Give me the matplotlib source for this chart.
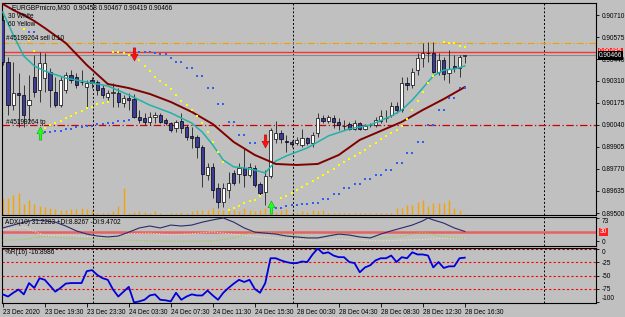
import numpy as np
import matplotlib
matplotlib.use("Agg")
import matplotlib.pyplot as plt
from matplotlib.path import Path
from matplotlib.transforms import blended_transform_factory

plt.rcParams['font.family'] = ['Liberation Sans', 'DejaVu Sans']

# EURGBPmicro M30, one entry per bar (bar 0 = 23 Dec 15:30)
opens = [0.90680, 0.90423, 0.90160, 0.90234, 0.90222, 0.90160, 0.90332, 0.90252, 0.90325, 0.90362,
         0.90240, 0.90160, 0.90252, 0.90344, 0.90332, 0.90301, 0.90270, 0.90313, 0.90301, 0.90264,
         0.90209, 0.90234, 0.90234, 0.90173, 0.90203, 0.90197, 0.90087, 0.90081, 0.90057, 0.90087,
         0.90099, 0.90069, 0.90050, 0.90020, 0.90063, 0.90026, 0.89971, 0.89965, 0.89904, 0.89733,
         0.89782, 0.89653, 0.89568, 0.89641, 0.89745, 0.89739, 0.89776, 0.89733, 0.89776, 0.89678,
         0.89629, 0.89727, 0.89953, 0.89989, 0.89940, 0.89934, 0.89928, 0.89916, 0.89959, 0.89928,
         0.89989, 0.90081, 0.90063, 0.90081, 0.90057, 0.90032, 0.90044, 0.90014, 0.90050, 0.90014,
         0.90038, 0.90038, 0.90063, 0.90081, 0.90099, 0.90154, 0.90130, 0.90295, 0.90283, 0.90374,
         0.90448, 0.90478, 0.90478, 0.90362, 0.90435, 0.90356, 0.90399, 0.90387, 0.90458]
highs = [0.90710, 0.90454, 0.90423, 0.90356, 0.90283, 0.90344, 0.90466, 0.90484, 0.90478, 0.90387,
         0.90332, 0.90332, 0.90362, 0.90374, 0.90356, 0.90374, 0.90313, 0.90332, 0.90313, 0.90283,
         0.90252, 0.90295, 0.90264, 0.90222, 0.90234, 0.90228, 0.90130, 0.90112, 0.90118, 0.90118,
         0.90112, 0.90081, 0.90057, 0.90069, 0.90112, 0.90038, 0.90026, 0.89977, 0.89916, 0.89806,
         0.89806, 0.89684, 0.89684, 0.89751, 0.89763, 0.89806, 0.89898, 0.89806, 0.89794, 0.89690,
         0.89763, 0.90020, 0.90063, 0.90008, 0.89977, 0.89947, 0.89965, 0.90014, 0.89965, 0.89995,
         0.90112, 0.90099, 0.90099, 0.90099, 0.90081, 0.90069, 0.90057, 0.90069, 0.90057, 0.90044,
         0.90050, 0.90087, 0.90130, 0.90130, 0.90179, 0.90179, 0.90332, 0.90332, 0.90387, 0.90478,
         0.90539, 0.90545, 0.90545, 0.90478, 0.90454, 0.90496, 0.90466, 0.90466, 0.90467]
lows = [0.90405, 0.90099, 0.90130, 0.90026, 0.90026, 0.90057, 0.90209, 0.90179, 0.90240, 0.90148,
        0.90148, 0.90148, 0.90234, 0.90295, 0.90264, 0.90283, 0.90148, 0.90264, 0.90222, 0.90203,
        0.90191, 0.90148, 0.90148, 0.90148, 0.90130, 0.90081, 0.90050, 0.90038, 0.90038, 0.90050,
        0.90050, 0.90038, 0.89995, 0.89995, 0.89989, 0.89947, 0.89898, 0.89837, 0.89659, 0.89702,
        0.89592, 0.89531, 0.89537, 0.89592, 0.89672, 0.89684, 0.89659, 0.89721, 0.89659, 0.89611,
        0.89549, 0.89714, 0.89928, 0.89928, 0.89873, 0.89904, 0.89916, 0.89904, 0.89916, 0.89904,
        0.89965, 0.90050, 0.90050, 0.90020, 0.90008, 0.90008, 0.90008, 0.90008, 0.90008, 0.90008,
        0.90026, 0.90026, 0.90050, 0.90057, 0.90087, 0.90112, 0.90118, 0.90252, 0.90264, 0.90344,
        0.90393, 0.90423, 0.90356, 0.90344, 0.90313, 0.90295, 0.90362, 0.90332, 0.90419]
closes = [0.90423, 0.90160, 0.90234, 0.90222, 0.90099, 0.90191, 0.90240, 0.90417, 0.90417, 0.90252,
          0.90160, 0.90313, 0.90344, 0.90313, 0.90283, 0.90301, 0.90295, 0.90295, 0.90252, 0.90222,
          0.90234, 0.90240, 0.90179, 0.90203, 0.90191, 0.90087, 0.90069, 0.90057, 0.90087, 0.90099,
          0.90057, 0.90050, 0.90008, 0.90057, 0.90020, 0.89965, 0.89959, 0.89904, 0.89739, 0.89782,
          0.89641, 0.89568, 0.89653, 0.89684, 0.89684, 0.89776, 0.89733, 0.89782, 0.89672, 0.89623,
          0.89727, 0.90008, 0.89989, 0.89953, 0.89934, 0.89922, 0.89947, 0.89959, 0.89928, 0.89977,
          0.90081, 0.90063, 0.90087, 0.90057, 0.90038, 0.90035, 0.90014, 0.90050, 0.90014, 0.90032,
          0.90040, 0.90069, 0.90093, 0.90084, 0.90154, 0.90130, 0.90295, 0.90283, 0.90362, 0.90448,
          0.90478, 0.90480, 0.90362, 0.90435, 0.90350, 0.90380, 0.90387, 0.90454, 0.90466]
volumes = [170, 170, 200, 220, 110, 150, 110, 90, 80, 70,
           60, 50, 50, 60, 60, 70, 60, 50, 20, 20,
           20, 40, 90, 270, 20, 30, 40, 30, 20, 40,
           20, 10, 20, 20, 30, 20, 40, 50, 50, 50,
           70, 50, 50, 50, 50, 40, 70, 50, 40, 50,
           70, 50, 30, 50, 60, 20, 20, 40, 30, 50,
           40, 50, 20, 20, 20, 20, 20, 20, 20, 20,
           20, 20, 20, 20, 20, 70, 70, 100, 100, 130,
           150, 90, 120, 120, 120, 150, 70, 50, 10]

# moving averages (read at sampled bars)
ma_fast_bars = [0, 2, 4, 6, 8, 12, 16, 20, 24, 28, 32, 36, 38, 40, 42, 44, 46, 48, 50, 51, 52, 54,
                58, 62, 66, 70, 74, 76, 78, 80, 82, 84, 86, 88]
ma_fast = [0.90729, 0.90588, 0.90460, 0.90399, 0.90368, 0.90325, 0.90301, 0.90277, 0.90222, 0.90160,
           0.90112, 0.90050, 0.89995, 0.89916, 0.89824, 0.89782, 0.89776, 0.89763, 0.89745, 0.89782,
           0.89818, 0.89849, 0.89898, 0.89971, 0.90014, 0.90038, 0.90093, 0.90130, 0.90191, 0.90264,
           0.90338, 0.90374, 0.90380, 0.90399]
ma_slow_bars = [0, 2, 4, 6, 8, 12, 16, 20, 24, 28, 32, 36, 40, 44, 48, 52, 56, 60, 64, 68, 72, 76,
                80, 84, 88]
ma_slow = [0.90778, 0.90741, 0.90710, 0.90674, 0.90631, 0.90539, 0.90405, 0.90289, 0.90264, 0.90228,
           0.90179, 0.90118, 0.90044, 0.89934, 0.89855, 0.89800, 0.89794, 0.89800, 0.89855, 0.89947,
           0.90002, 0.90057, 0.90130, 0.90197, 0.90270]

# parabolic SAR dots
sar_yellow_bars = [4, 5, 6, 8, 9, 10, 11, 12, 13, 14, 15, 16, 17, 18, 19, 20,
                   21, 22, 23, 24, 25, 26, 27, 28, 29, 30, 31, 32, 33, 34, 35, 36, 37, 38, 39, 40, 41, 42,
                   43, 44, 45, 46, 47, 48, 49,
                   53, 54, 55, 56, 57, 58, 59, 60, 61, 62, 63, 64, 65, 66, 67, 68, 69, 70, 71, 72, 73,
                   74, 75, 76, 77, 78, 79, 80, 81, 82, 84, 85, 86, 87, 88]
sar_yellow = [0.90625, 0.90558, 0.90490, 0.90020, 0.90038, 0.90050, 0.90063, 0.90081, 0.90093, 0.90112,
              0.90124, 0.90142, 0.90148, 0.90167, 0.90173, 0.90179,
              0.90484, 0.90484, 0.90478, 0.90466, 0.90454, 0.90435, 0.90399, 0.90368, 0.90332, 0.90307,
              0.90283, 0.90258, 0.90222, 0.90185, 0.90160, 0.90130, 0.90093, 0.90050, 0.89995, 0.89934,
              0.89873, 0.89812,
              0.89519, 0.89531, 0.89543, 0.89562, 0.89574, 0.89580, 0.89604,
              0.89592, 0.89604, 0.89623, 0.89641, 0.89659, 0.89678, 0.89696, 0.89714, 0.89733, 0.89751,
              0.89769, 0.89794, 0.89812, 0.89831, 0.89849, 0.89867, 0.89886, 0.89910, 0.89928, 0.89953,
              0.89971, 0.89989, 0.90008, 0.90032, 0.90075, 0.90130, 0.90185, 0.90240, 0.90295, 0.90338,
              0.90545, 0.90539, 0.90539, 0.90521, 0.90515]
sar_blue_bars = [5, 6, 8, 9, 10, 11, 12, 13, 14, 15, 16, 17, 18, 19, 20, 21, 22, 23, 24,
                 25, 26, 27, 28, 29, 30, 31, 32, 33, 34, 35, 36, 37, 38, 39, 40, 41, 42, 43, 44, 45, 46, 47, 48,
                 52, 53, 54, 55, 56, 57, 58, 59, 60, 61, 62, 63, 64, 65, 66, 67, 68, 69, 70, 71, 72,
                 73, 74, 75, 76, 77, 78, 79, 80, 81, 82, 83, 84, 85, 86, 87, 88]
sar_blue = [0.90606, 0.90606, 0.89995, 0.89995, 0.90002, 0.90002, 0.90014, 0.90014, 0.90026, 0.90026,
            0.90032, 0.90032, 0.90044, 0.90044, 0.90050, 0.90050, 0.90063, 0.90063, 0.90069,
            0.90484, 0.90484, 0.90484, 0.90484, 0.90478, 0.90472, 0.90472, 0.90448, 0.90423, 0.90423,
            0.90387, 0.90387, 0.90338, 0.90338, 0.90264, 0.90264, 0.90167, 0.90167, 0.90057, 0.90057,
            0.89977, 0.89977, 0.89928, 0.89928,
            0.89531, 0.89531, 0.89543, 0.89549, 0.89549, 0.89556, 0.89556, 0.89562, 0.89562, 0.89586,
            0.89586, 0.89617, 0.89617, 0.89653, 0.89653, 0.89678, 0.89678, 0.89708, 0.89708, 0.89733,
            0.89733, 0.89763, 0.89763, 0.89806, 0.89806, 0.89867, 0.89867, 0.89934, 0.89934, 0.90038,
            0.90038, 0.90130, 0.90130, 0.90203, 0.90203, 0.90264, 0.90264]

# signal arrows
sell_bars = [25, 50]
sell_prices = [0.90472, 0.89941]
buy_bars = [7, 51]
buy_prices = [0.89989, 0.89537]

# order / price lines
order_price = 0.90539
tp_price = 0.90040
ask_price = 0.90485
bid_price = 0.90466
day_breaks = [17.1, 55.2, 103.0]

price_ticks = [0.90710, 0.90575, 0.90440, 0.90310, 0.90175, 0.90040, 0.89905, 0.89770, 0.89635, 0.89500]
time_bars = [0, 8, 16, 24, 32, 40, 48, 56, 64, 72, 80, 88]
time_labels = ["23 Dec 2020", "23 Dec 19:30", "23 Dec 23:30", "24 Dec 03:30", "24 Dec 07:30",
               "24 Dec 11:30", "24 Dec 15:30", "28 Dec 00:30", "28 Dec 04:30", "28 Dec 08:30",
               "28 Dec 12:30", "28 Dec 16:30"]

# ADX(10)
adx_bars = [0, 2, 4, 6, 8, 10, 12, 14, 16, 18, 20, 22, 24, 26, 28, 30, 32, 34, 36, 38, 40, 42, 44, 46,
            48, 50, 52, 54, 56, 58, 60, 62, 64, 66, 68, 70, 72, 74, 76, 78, 80, 81, 82, 84, 86, 88]
adx = [42, 51, 60, 67, 64, 60, 48, 33, 23, 17, 14, 17, 29, 42, 48, 42, 51, 48, 51, 60, 67, 73, 60, 42,
       29, 26, 23, 17, 14, 11, 11, 17, 23, 20, 14, 11, 23, 33, 42, 51, 64, 73, 67, 57, 42, 31.2283]
di_bars = [0, 4, 8, 12, 16, 20, 24, 28, 32, 36, 40, 44, 48, 52, 56, 60, 64, 68, 72, 76, 80, 84, 88]
plus_di = [4, 6, 16, 10, 8, 6, 4, 2, 1, 1, 2, 11, 30, 26, 18, 12, 26, 16, 11, 16, 29, 14, 8.8267]
minus_di = [36, 45, 18, 20, 16, 14, 24, 26, 20, 24, 30, 22, 16, 10, 6, 4, 6, 4, 2, 4, 6, 10, 9.4702]
adx_level = 30

# Williams %R(16)
wpr = [-85, -89, -82, -76, -85, -64, -73, -55, -58, -69,
       -80, -73, -65, -64, -64, -64, -42, -40, -49, -55,
       -58, -76, -89, -80, -71, -100, -98, -95, -87, -85,
       -95, -96, -98, -82, -95, -89, -85, -87, -87, -78,
       -87, -95, -82, -73, -65, -58, -62, -58, -75, -82,
       -64, -18, -18, -22, -25, -27, -27, -24, -25, -11,
       0, -9, -7, -13, -16, -16, -25, -27, -44, -35,
       -31, -22, -18, -18, -13, -25, -16, -18, -7, -11,
       -11, -13, -35, -25, -36, -33, -33, -18, -16.8986]
wpr_levels = [0, -25, -50, -75]

BG = '#C0C0C0'
FS = 4.7
W, H = 625, 317


def rect(x0, y0, x1, y1):
    return [x0 / W, 1 - y1 / H, (x1 - x0) / W, (y1 - y0) / H]


fig = plt.figure(figsize=(W / 100, H / 100), dpi=100, facecolor=BG)
ax = fig.add_axes(rect(2, 3, 596, 215), facecolor=BG)
ax_adx = fig.add_axes(rect(2, 217, 596, 246), facecolor=BG, sharex=ax)
ax_wpr = fig.add_axes(rect(2, 248, 596, 303), facecolor=BG, sharex=ax)

o = np.array(opens); h = np.array(highs); l = np.array(lows); c = np.array(closes)
x = np.arange(len(o))

# volumes in the bottom of the price window
ax.vlines(x, 0, np.array(volumes) / 2120, transform=ax.get_xaxis_transform(),
          color='#F5A300', lw=1.0, zorder=1)

for d in day_breaks:
    for a in (ax, ax_adx, ax_wpr):
        a.axvline(d, color='black', lw=0.7, ls=(0, (2, 2)), zorder=1)

ax.axhline(order_price, color='#F0A000', lw=0.8, ls=(0, (6, 2, 1, 2)), zorder=2)
ax.axhline(tp_price, color='#CC0000', lw=0.9, ls=(0, (6, 2, 1, 2)), zorder=2)
ax.axhline(ask_price, color='#FF3030', lw=1.0, zorder=2)
ax.axhline(bid_price, color='#8A8A8A', lw=0.8, zorder=2)

# candles
ax.vlines(x, l, h, color='#202020', lw=0.6, zorder=3)
up = c >= o
bh = np.maximum(np.abs(c - o), 0.000015)
bb = np.minimum(o, c)
ax.bar(x[up], bh[up], bottom=bb[up], width=0.6, color='white', edgecolor='black', lw=0.5, zorder=4)
ax.bar(x[~up], bh[~up], bottom=bb[~up], width=0.6, color='#3B3B98', edgecolor='black', lw=0.5, zorder=4)

ax.plot(ma_fast_bars, ma_fast, color='#20B2AA', lw=1.1, zorder=5)
ax.plot(ma_slow_bars, ma_slow, color='#800000', lw=1.4, zorder=5)

ax.scatter(sar_yellow_bars, sar_yellow, s=2.5, marker='s', color='#FFFF00', lw=0, zorder=6)
ax.scatter(sar_blue_bars, sar_blue, s=2.5, marker='s', color='#3060F0', lw=0, zorder=6)

down_arrow = Path([(-0.2, 1), (0.2, 1), (0.2, 0.05), (0.55, 0.05), (0, -1), (-0.55, 0.05),
                   (-0.2, 0.05), (-0.2, 1)], closed=True)
up_arrow = Path([(px, -py) for px, py in down_arrow.vertices], closed=True)
ax.scatter(sell_bars, sell_prices, marker=down_arrow, s=90, color='#FF1010', edgecolor='#A00000',
           lw=0.3, zorder=8)
ax.scatter(buy_bars, buy_prices, marker=up_arrow, s=90, color='#20FF20', edgecolor='#009000',
           lw=0.3, zorder=8)

ax.set_xlim(-0.15, 113.0)
ax.set_ylim(0.89488, 0.90784)
ax.yaxis.tick_right()
ax.set_yticks(price_ticks)
ax.set_yticklabels([f"{p:.5f}" for p in price_ticks])
ax.tick_params(axis='y', direction='out', length=2.5, width=0.6, pad=1.5, labelsize=FS)
ax.tick_params(axis='x', bottom=False, labelbottom=False)

tr = blended_transform_factory(ax.transAxes, ax.transData)
ax.text(1.004, ask_price, f"{ask_price:.5f}", transform=tr, ha='left', va='center', fontsize=FS,
        color='white', bbox=dict(boxstyle='square,pad=0.12', fc='#FF2020', ec='none'), zorder=10,
        clip_on=False)
ax.text(1.004, bid_price - 0.00004, f"{bid_price:.5f}", transform=tr, ha='left', va='center',
        fontsize=FS, color='white', bbox=dict(boxstyle='square,pad=0.12', fc='black', ec='none'),
        zorder=11, clip_on=False)

# ADX panel
ax_adx.axhline(adx_level, color='#E86060', lw=1.8, zorder=2)
ax_adx.plot(di_bars, minus_di, color='#F5DEB3', lw=0.8, ls=(0, (1, 1.5)), zorder=3)
ax_adx.plot(di_bars, plus_di, color='#9ACD32', lw=0.8, ls=(0, (1, 1.5)), zorder=3)
ax_adx.plot(adx_bars, adx, color='#2A2A70', lw=0.8, zorder=4)
ax_adx.set_ylim(-14, 76)
ax_adx.yaxis.tick_right()
ax_adx.set_yticks([73, 0])
ax_adx.set_yticklabels(['73', '0'])
ax_adx.tick_params(axis='y', direction='out', length=2.5, width=0.6, pad=1.5, labelsize=FS)
ax_adx.get_yticklabels()[0].set_va('top')
ax_adx.tick_params(axis='x', bottom=False, labelbottom=False)
tra = blended_transform_factory(ax_adx.transAxes, ax_adx.transData)
ax_adx.text(1.006, adx_level, str(adx_level), transform=tra, ha='left', va='center', fontsize=FS,
            color='white', bbox=dict(boxstyle='square,pad=0.12', fc='#FF2020', ec='none'),
            clip_on=False)

# %R panel
for lv in wpr_levels:
    ax_wpr.axhline(lv, color='#FF0000' if lv else '#B00000', lw=0.8, ls=(0, (2, 2)), zorder=2)
ax_wpr.plot(x, wpr, color='#0000DD', lw=1.3, zorder=4)
ax_wpr.set_ylim(-101, 1)
ax_wpr.yaxis.tick_right()
ax_wpr.set_yticks([0, -25, -50, -75, -100])
ax_wpr.set_yticklabels(['0', '-25', '-50', '-75', '-100'])
ax_wpr.tick_params(axis='y', direction='out', length=2.5, width=0.6, pad=1.5, labelsize=FS)
lbls = ax_wpr.get_yticklabels()
lbls[0].set_va('top')
lbls[-1].set_va('bottom')
ax_wpr.set_xticks(time_bars)
ax_wpr.set_xticklabels(time_labels, ha='left')
ax_wpr.tick_params(axis='x', direction='out', length=3, width=0.6, pad=1.5, labelsize=FS)

for a in (ax, ax_adx, ax_wpr):
    for s in a.spines.values():
        s.set_color('black')
        s.set_linewidth(0.8)

# chart captions
def label(px, py, s):
    fig.text(px / W, 1 - py / H, s, fontsize=FS, color='black', va='center', ha='left')

label(12, 8, "EURGBPmicro,M30  0.90458 0.90467 0.90419 0.90466")
label(8, 16, "30 White")
label(8, 25, "60 Yellow")
label(6, 39, "#45199264 sell 0.10")
label(6, 122, "#45199264 tp")
label(5, 222, "ADX(10) 31.2283 +DI:8.8267 -DI:9.4702")
label(5, 253, "%R(16) -16.8986")

fig.savefig("out.png", dpi=100, facecolor=BG)
